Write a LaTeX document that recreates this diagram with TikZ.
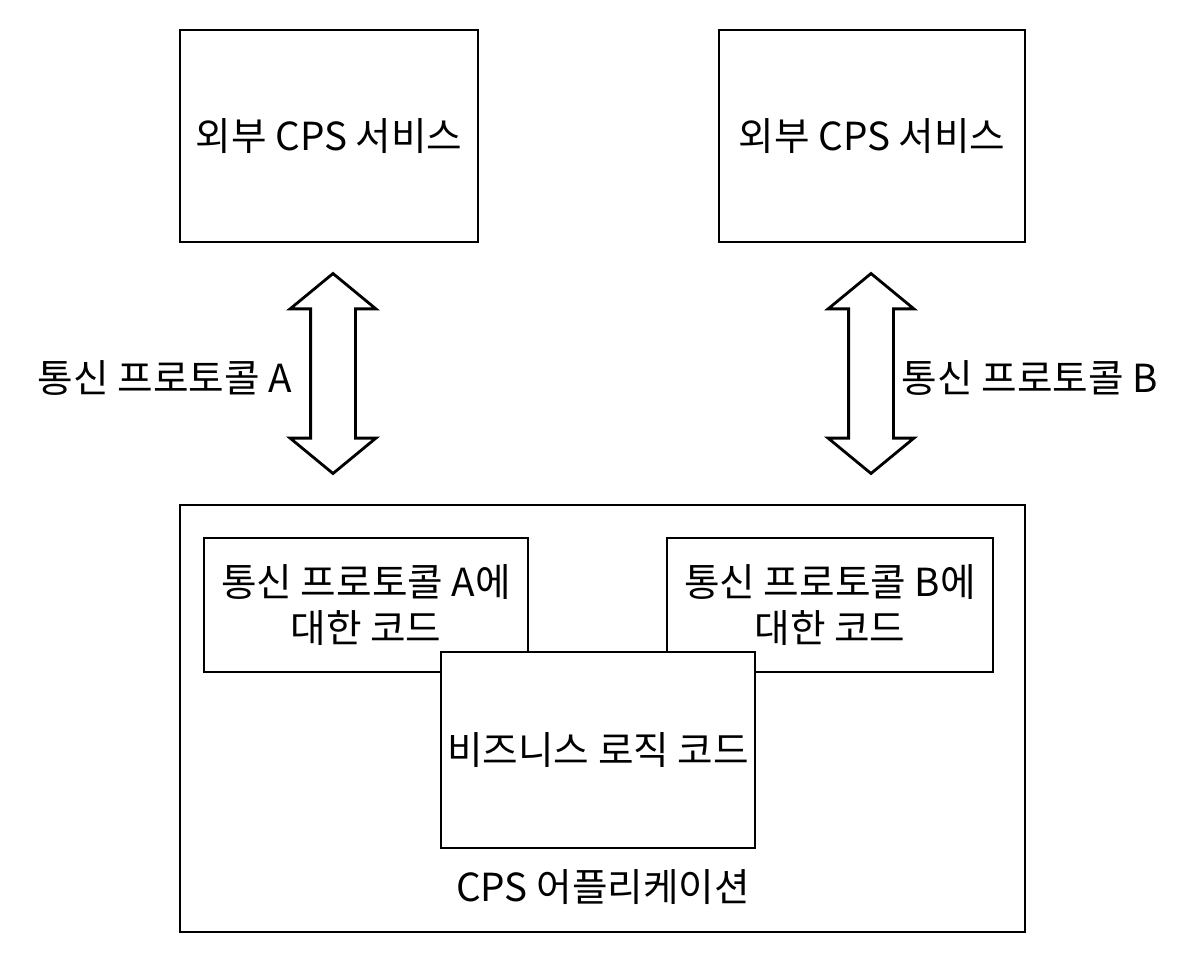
\documentclass[tikz,border=0pt]{standalone}
\usepackage{fontspec}
\setmainfont{Noto Sans CJK KR}
\usetikzlibrary{shapes.arrows,calc}
\tikzset{
  box/.style={draw=black, line width=1.6pt, fill=white, align=center,
              inner sep=0pt, font=\fontsize{22}{26}\selectfont},
  lbl/.style={inner sep=0pt, font=\fontsize{22}{26}\selectfont},
  link/.style={double arrow, draw=black, line width=1.6pt, fill=white,
              rotate=90, inner xsep=0pt, inner ysep=0.42cm, minimum height=4cm,
              double arrow head extend=0.41cm, double arrow tip angle=101},
}

\begin{document}
\begin{tikzpicture}[x=0.02cm,y=-0.02cm]
  \useasboundingbox (0,0) rectangle (1199,961);
  % external services
  \node[box,minimum width=5.96cm,minimum height=4.24cm] (svcA) at (329,136){외부 CPS 서비스};
  \node[box,minimum width=6.12cm,minimum height=4.24cm] (svcB) at (872,136){외부 CPS 서비스};
  % application
  \node[box,minimum width=16.9cm,minimum height=8.54cm] (app) at (602.5,718.5){};
  \node[lbl] (appname) at (603,887){CPS 어플리케이션};
  \node[box,minimum width=6.48cm,minimum height=2.68cm] (codeA) at (366,605){통신 프로토콜 A에\\대한 코드};
  \node[box,minimum width=6.52cm,minimum height=2.68cm] (codeB) at (830,605){통신 프로토콜 B에\\대한 코드};
  \node[box,minimum width=6.28cm,minimum height=3.92cm] (biz) at (598,750){비즈니스 로직 코드};
  % protocols
  \node[link] (linkA) at (333,373.5) {};
  \node[link] (linkB) at (871,373.5) {};
  \node[lbl] (protA) at (165,378){통신 프로토콜 A};
  \node[lbl] (protB) at (1030,378){통신 프로토콜 B};
\end{tikzpicture}
\end{document}
